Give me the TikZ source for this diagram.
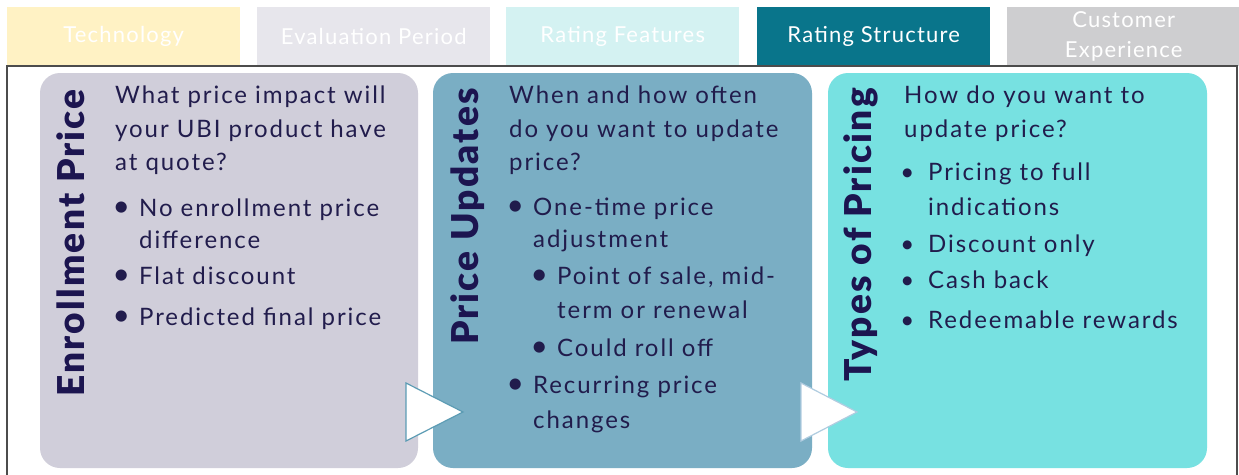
\documentclass[tikz,border=0pt]{standalone}
\usepackage{fontspec}
\setmainfont{Lato}[LetterSpace=8]
\newfontfamily\tabfont{Lato}[LetterSpace=5.5]
\newfontfamily\titlefont{Lato Black}[LetterSpace=6]
\newfontfamily\bulfont{Lato}
\definecolor{tabA}{HTML}{FFF2C4}
\definecolor{tabB}{HTML}{E7E6EC}
\definecolor{tabC}{HTML}{D4F2F2}
\definecolor{tabD}{HTML}{09758B}
\definecolor{tabE}{HTML}{CECED0}
\definecolor{panA}{HTML}{D0CEDA}
\definecolor{panB}{HTML}{7AAEC4}
\definecolor{panC}{HTML}{77E1E1}
\definecolor{ink}{HTML}{211C4C}
\definecolor{headink}{HTML}{1C1550}
\definecolor{triA}{HTML}{5C9CB4}
\definecolor{triB}{HTML}{B0CCE0}
\newcommand\bigbul{\llap{\makebox[0pt]{\bulfont\fontsize{30}{30}\selectfont\textbullet}\hspace{18pt}}}
\newcommand\smlbul{\llap{\makebox[0pt]{\bulfont\textbullet}\hspace{21pt}}}
\begin{document}
\begin{tikzpicture}[x=1pt,y=-1pt,
  tab/.style={minimum width=233pt,minimum height=59pt,anchor=north west,inner sep=0pt,
    text=white,align=center,font=\tabfont\fontsize{22}{30}\selectfont},
  panel/.style={rounded corners=20pt},
  body/.style={anchor=base west,inner sep=0pt,text=ink,font=\fontsize{24}{32}\selectfont},
  heading/.style={rotate=90,anchor=base east,inner sep=0pt,text=headink,font=\titlefont\fontsize{37}{42}\selectfont},
  tri/.style={fill=white,line width=1.2pt,line join=miter}]
\useasboundingbox (0,0) rectangle (1239,474);
\fill[white] (0,0) rectangle (1239,474);
% category tabs
\node[tab,fill=tabA] (t1) at (7,7) {Technology};
\node[tab,fill=tabB] (t2) at (257,7) {Evaluation Period};
\node[tab,fill=tabC] (t3) at (506,7) {Rating Features};
\node[tab,fill=tabD] (t4) at (757,7) {Rating Structure};
\node[tab,fill=tabE] (t5) at (1007,7) {Customer\\Experience};
% content frame
\fill[white] (7,66) rectangle (1237,476);
\draw[gray!60!black,line width=1.2pt] (7,478) -- (7,66) -- (1237,66) -- (1237,478);
% panels
\fill[panel,panA] (40,73) rectangle (418,468);
\fill[panel,panB] (433,73) rectangle (812,468);
\fill[panel,panC] (828,73) rectangle (1207,468);
% flow arrows
\draw[tri,draw=triA] (406,383) -- (406,441) -- (463,412) -- cycle;
\draw[tri,draw=triB] (801,383) -- (801,441) -- (857,412) -- cycle;
% panel headings
\node[heading] (h1) at (84,89) {Enrollment Price};
\node[heading] (h2) at (478,88) {Price Updates};
\node[heading] (h3) at (871,88) {Types of Pricing};
% panel 1 text
\node[body] (a1) at (115,103) {What price impact will};
\node[body] (a2) at (115,137) {your UBI product have};
\node[body] (a3) at (115,170) {at quote?};
\node[body] (a4) at (139,216) {\bigbul No enrollment price};
\node[body] (a5) at (139,248) {difference};
\node[body] (a6) at (139,284) {\bigbul Flat discount};
\node[body] (a7) at (139,325) {\bigbul Predicted final price};
% panel 2 text
\node[body] (b1) at (509,103) {When and how often};
\node[body] (b2) at (509,137) {do you want to update};
\node[body] (b3) at (509,170) {price?};
\node[body] (b4) at (533,215) {\bigbul One-time price};
\node[body] (b5) at (533,247) {adjustment};
\node[body] (b6) at (557,284) {\bigbul Point of sale, mid-};
\node[body] (b7) at (557,318) {term or renewal};
\node[body] (b8) at (557,356) {\bigbul Could roll off};
\node[body] (b9) at (533,393) {\bigbul Recurring price};
\node[body] (b10) at (533,428) {changes};
% panel 3 text
\node[body] (c1) at (904,103) {How do you want to};
\node[body] (c2) at (904,137) {update price?};
\node[body] (c3) at (928,180) {\smlbul Pricing to full};
\node[body] (c4) at (928,215) {indications};
\node[body] (c5) at (928,252) {\smlbul Discount only};
\node[body] (c6) at (928,288) {\smlbul Cash back};
\node[body] (c7) at (928,328) {\smlbul Redeemable rewards};
\end{tikzpicture}
\end{document}
